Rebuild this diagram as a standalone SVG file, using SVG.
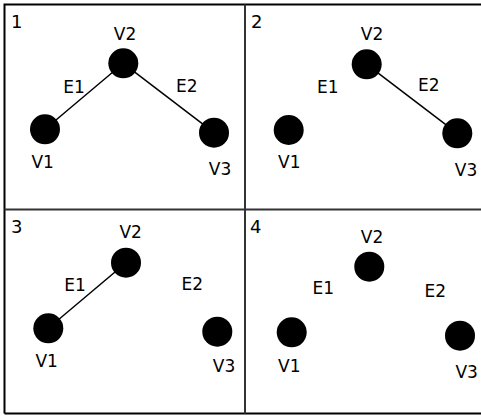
<svg xmlns="http://www.w3.org/2000/svg" width="481" height="418" viewBox="0 0 481 418">
<style>
.v{fill:#000}
.e{stroke:#000;stroke-width:1.5;fill:none}
.t{font-family:"DejaVu Sans",sans-serif;font-size:17px;fill:#000;text-anchor:middle}
.n{font-family:"DejaVu Sans",sans-serif;font-size:18px;fill:#000}
.b{stroke:#000;stroke-width:2;fill:none}
.d{stroke:#333;stroke-width:2;fill:none}
</style>
<rect width="481" height="418" fill="#fff"/>
<g id="frame">
<path class="b" d="M4.5,413.5 V4.5 H481"/>
<path class="b" d="M4.5,413.5 H481"/>
<path class="d" d="M245,4.5 V413.5 M4.5,209.5 H481"/>
</g>
<g id="connectors">
<line class="e" x1="45" y1="129.3" x2="123.3" y2="63.3"/>
<line class="e" x1="123.3" y1="63.3" x2="214" y2="132.7"/>
<line class="e" x1="366.7" y1="64.3" x2="457.3" y2="133.3"/>
<line class="e" x1="48.3" y1="328.3" x2="126" y2="262.7"/>
</g>
<g id="panel1">
<text class="n" x="11" y="28">1</text>
<g id="p1-v1"><circle class="v" cx="45" cy="129.3" r="15"/><text class="t" x="42.7" y="168">V1</text></g>
<g id="p1-v2"><circle class="v" cx="123.3" cy="63.3" r="15"/><text class="t" x="125" y="40">V2</text></g>
<g id="p1-v3"><circle class="v" cx="214" cy="132.7" r="15"/><text class="t" x="220" y="175">V3</text></g>
<text class="t" x="74" y="92.5">E1</text>
<text class="t" x="186.7" y="92">E2</text>
</g>
<g id="panel2">
<text class="n" x="251" y="28">2</text>
<g id="p2-v1"><circle class="v" cx="288.7" cy="130" r="15"/><text class="t" x="289.3" y="168">V1</text></g>
<g id="p2-v2"><circle class="v" cx="366.7" cy="64.3" r="15"/><text class="t" x="372" y="40">V2</text></g>
<g id="p2-v3"><circle class="v" cx="457.3" cy="133.3" r="15"/><text class="t" x="466" y="176">V3</text></g>
<text class="t" x="327.7" y="93.3">E1</text>
<text class="t" x="428.7" y="91">E2</text>
</g>
<g id="panel3">
<text class="n" x="11" y="233">3</text>
<g id="p3-v1"><circle class="v" cx="48.3" cy="328.3" r="15"/><text class="t" x="46.7" y="367.3">V1</text></g>
<g id="p3-v2"><circle class="v" cx="126" cy="262.7" r="15"/><text class="t" x="130.7" y="238.3">V2</text></g>
<g id="p3-v3"><circle class="v" cx="217.3" cy="331.7" r="15"/><text class="t" x="224" y="371.7">V3</text></g>
<text class="t" x="75" y="291">E1</text>
<text class="t" x="192.3" y="290">E2</text>
</g>
<g id="panel4">
<text class="n" x="250" y="233">4</text>
<g id="p4-v1"><circle class="v" cx="291.7" cy="332.3" r="15"/><text class="t" x="289.3" y="371.7">V1</text></g>
<g id="p4-v2"><circle class="v" cx="369.3" cy="266.7" r="15"/><text class="t" x="372" y="243.3">V2</text></g>
<g id="p4-v3"><circle class="v" cx="460" cy="335.7" r="15"/><text class="t" x="466.7" y="377.7">V3</text></g>
<text class="t" x="323.3" y="294.3">E1</text>
<text class="t" x="435.3" y="296.7">E2</text>
</g>
</svg>
